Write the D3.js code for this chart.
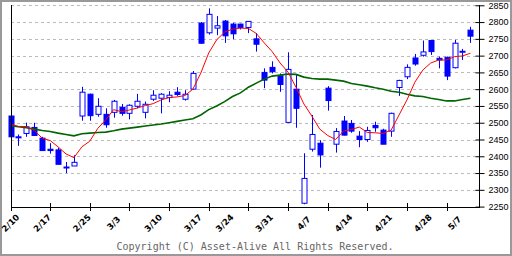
<!DOCTYPE html>
<html><head><meta charset="utf-8">
<script src="https://cdn.jsdelivr.net/npm/d3@7"></script>
<style>html,body{margin:0;padding:0;background:#fff;}svg{display:block;}</style>
</head><body>
<svg id="chart" width="512" height="256"></svg>
<script>
const dates = ["2/10","2/12","2/13","2/14","2/17","2/18","2/19","2/20","2/21","2/25","2/26","2/27","2/28",
"3/3","3/4","3/5","3/6","3/7","3/10","3/11","3/12","3/13","3/14","3/17","3/18","3/19","3/21","3/24","3/25","3/26","3/27","3/28","3/31",
"4/1","4/2","4/3","4/4","4/7","4/8","4/9","4/10","4/11","4/14","4/15","4/16","4/17","4/18","4/21","4/22","4/23","4/24","4/25","4/28","4/30",
"5/1","5/2","5/7","5/8","5/9"];
const open  = [2520,2458,2468,2486,2454,2421,2419,2368,2371,2520,2585,2525,2525,2531,2546,2528,2549,2531,2570,2573,2575,2591,2570,2600,2797,2768,2782,2803,2794,2794,2784,2750,2650,2665,2640,2501,2600,2260,2421,2439,2603,2436,2505,2498,2460,2450,2492,2478,2475,2605,2637,2693,2701,2745,2692,2695,2664,2710,2776];
const high  = [2520,2465,2500,2500,2458,2439,2425,2383,2403,2607,2587,2573,2543,2568,2556,2555,2586,2563,2597,2588,2594,2606,2597,2654,2800,2841,2818,2806,2798,2795,2803,2767,2662,2683,2647,2710,2642,2409,2523,2448,2609,2484,2520,2508,2475,2488,2503,2482,2530,2628,2674,2705,2745,2746,2697,2697,2747,2720,2786];
const low   = [2458,2431,2458,2462,2417,2408,2376,2350,2371,2506,2506,2518,2485,2515,2521,2510,2543,2513,2565,2528,2561,2580,2566,2600,2735,2763,2761,2738,2749,2778,2767,2712,2603,2647,2592,2501,2485,2257,2414,2366,2536,2411,2462,2470,2427,2443,2473,2436,2458,2580,2630,2670,2697,2702,2662,2627,2662,2687,2738];
const close = [2458,2455,2488,2462,2417,2417,2376,2366,2382,2591,2521,2549,2494,2564,2528,2552,2564,2555,2582,2585,2582,2584,2585,2647,2737,2823,2789,2759,2765,2784,2802,2734,2627,2652,2614,2659,2543,2334,2465,2404,2566,2474,2463,2475,2450,2477,2485,2436,2528,2626,2665,2675,2711,2712,2687,2639,2737,2713,2758];
const maShort = [2496,2489,2488,2477,2454,2447,2428,2407,2396,2428,2445,2483,2508,2539,2533,2538,2544,2551,2557,2568,2575,2577,2581,2600,2648,2708,2747,2770,2779,2782,2781,2766,2738,2712,2678,2651,2606,2556,2520,2481,2462,2450,2475,2480,2487,2471,2470,2468,2478,2523,2568,2621,2657,2678,2687,2687,2697,2699,2707];
const maLong = [2491,2488,2485,2481,2477,2474,2469,2465,2461,2467,2469,2471,2472,2476,2481,2484,2487,2490,2493,2496,2500,2504,2508,2512,2523,2539,2550,2563,2578,2589,2606,2618,2630,2639,2642,2645,2644,2636,2632,2630,2630,2627,2624,2617,2613,2609,2604,2600,2594,2591,2585,2580,2578,2573,2569,2565,2565,2569,2573];
const tickLabels = ["2/10","2/17","2/25","3/3","3/10","3/17","3/24","3/31","4/7","4/14","4/21","4/28","5/7"];
const yTicks = [2250,2300,2350,2400,2450,2500,2550,2600,2650,2700,2750,2800,2850];
const copyright = "Copyright (C) Asset-Alive All Rights Reserved.";

const svg = d3.select("#chart");
const L = 10.5, R = 478.5, T = 5.3, B = 206.6;
const x = d3.scaleLinear().domain([0, dates.length - 1]).range([10.5, 470.4]);
const y = d3.scaleLinear().domain([2250, 2850]).range([B, T]);
const px = v => Math.round(v) + 0.5;

// outer frame
svg.append("rect").attr("x",1).attr("y",1).attr("width",510).attr("height",254)
  .attr("fill","#fff").attr("stroke","#999").attr("stroke-width",2);

// gridlines
svg.append("g").selectAll("line").data(yTicks.filter(v => v > 2250)).join("line")
  .attr("x1", L).attr("x2", R).attr("y1", d => px(y(d))).attr("y2", d => px(y(d)))
  .attr("stroke", "#bbbbbb").attr("stroke-dasharray", "3,3").attr("shape-rendering","crispEdges");

// candles
const g = svg.append("g");
dates.forEach((d, i) => {
  const cx = px(x(i));
  g.append("line").attr("x1", cx).attr("x2", cx).attr("y1", y(high[i])).attr("y2", y(low[i]))
    .attr("stroke", "#0000ff").attr("stroke-width", 1);
  const top = y(Math.max(open[i], close[i])), bot = y(Math.min(open[i], close[i]));
  const up = close[i] > open[i];
  g.append("rect").attr("x", cx - 2.5).attr("y", top).attr("width", 5).attr("height", Math.max(1, bot - top))
    .attr("fill", up ? "#fff" : "#0000ff").attr("stroke", "#0000ff").attr("stroke-width", 1);
});

// moving averages
const line = d3.line().x((d, i) => x(i)).y(d => y(d));
svg.append("path").datum(maLong).attr("d", line).attr("fill","none").attr("stroke","#006400").attr("stroke-width",1.6);
svg.append("path").datum(maShort).attr("d", line).attr("fill","none").attr("stroke","#ff0000").attr("stroke-width",1);

// axes
const ax = svg.append("g").attr("stroke","#000").attr("shape-rendering","crispEdges");
ax.append("line").attr("x1", px(L)).attr("x2", px(L)).attr("y1", T).attr("y2", B);
ax.append("line").attr("x1", px(R)).attr("x2", px(R)).attr("y1", T).attr("y2", B);
ax.append("line").attr("x1", L).attr("x2", R+1).attr("y1", px(B)).attr("y2", px(B));

// y axis ticks & labels
const yAxis = d3.axisRight(y).tickValues(yTicks).tickSize(5).tickPadding(5).tickFormat(d3.format("d"));
const ya = svg.append("g").attr("transform", `translate(${px(R)},0)`).call(yAxis);
ya.select(".domain").remove();
ya.selectAll(".tick line").attr("x1", -4).attr("x2", 5).attr("stroke","#000");
ya.selectAll(".tick text").attr("font-family","'Liberation Sans', sans-serif").attr("font-size", 9).attr("fill","#000").attr("x", 9);

// x ticks every 5 candles
const xTickIdx = d3.range(0, dates.length, 5);
svg.append("g").selectAll("line").data(xTickIdx).join("line")
  .attr("x1", d => px(x(d))).attr("x2", d => px(x(d))).attr("y1", B - 4).attr("y2", B + 4)
  .attr("stroke","#000").attr("shape-rendering","crispEdges");

// x labels at dates
svg.append("g").selectAll("text").data(tickLabels).join("text")
  .attr("transform", d => `translate(${x(dates.indexOf(d))},${223}) rotate(-45)`)
  .attr("text-anchor","middle").attr("dominant-baseline","central")
  .attr("font-family","'DejaVu Sans', sans-serif").attr("font-weight","bold").attr("font-size", 8.5)
  .attr("fill","#000").text(d => d);

svg.append("text").attr("x", 255).attr("y", 250).attr("text-anchor","middle")
  .attr("font-family","'DejaVu Sans Mono', monospace").attr("font-size", 10).attr("fill","#666")
  .text(copyright);
</script>
</body></html>
